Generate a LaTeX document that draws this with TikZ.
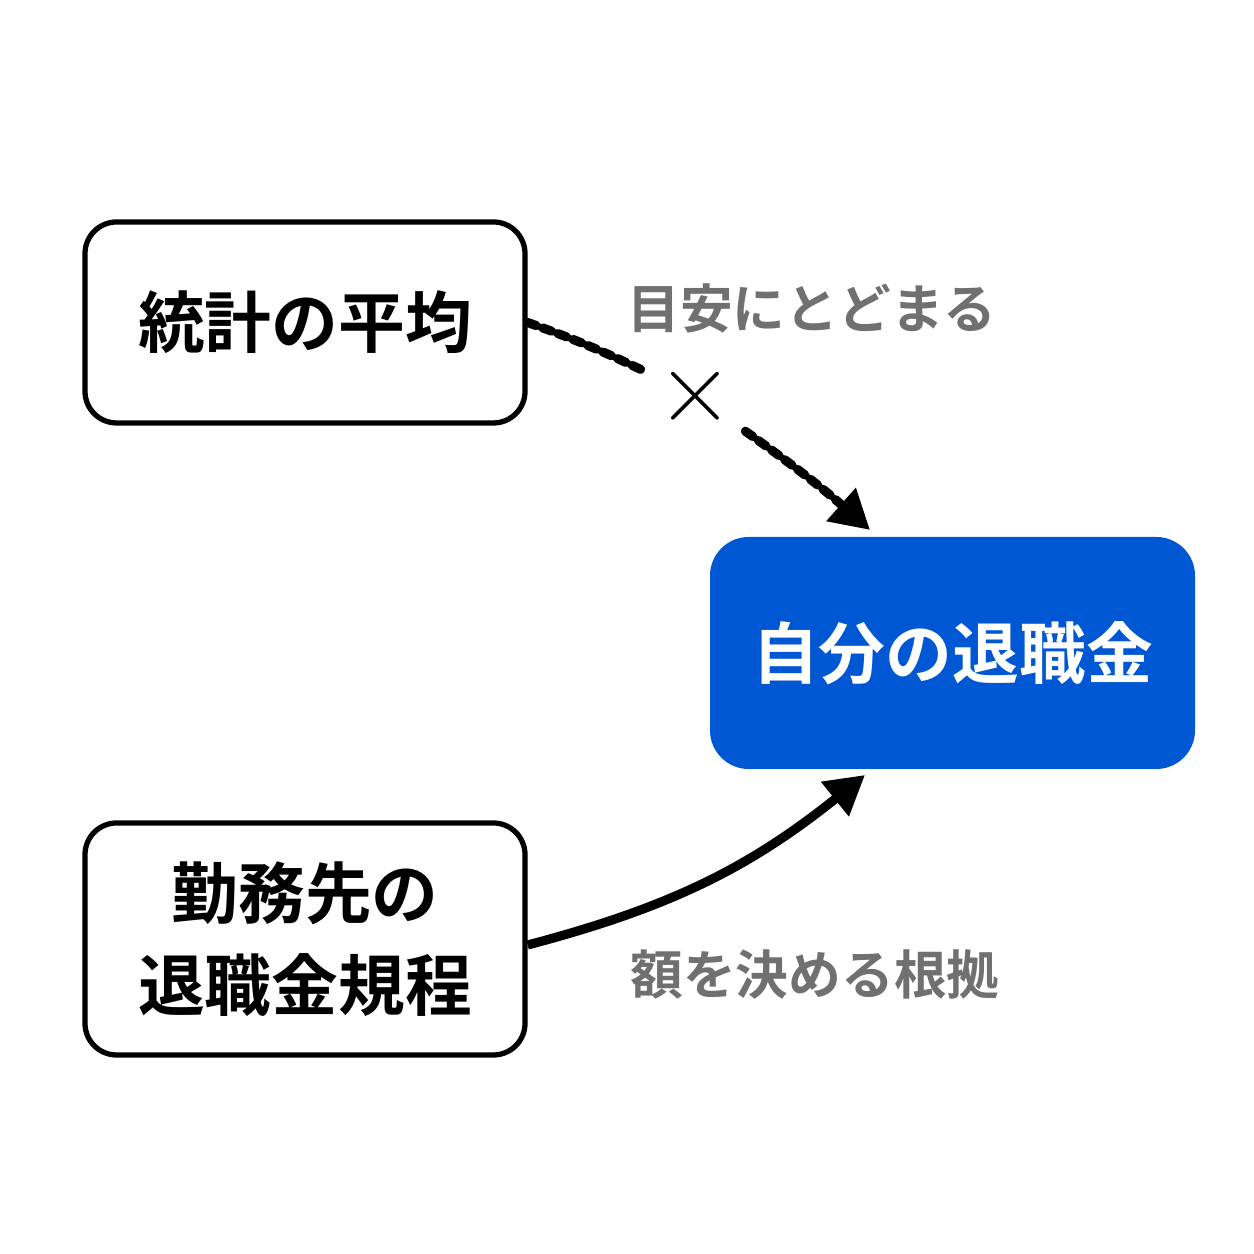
\documentclass[tikz,border=0pt]{standalone}
\usepackage{fontspec}
\newfontfamily\cjk{Noto Sans CJK JP}[BoldFont={Noto Sans CJK JP Bold}]
\usetikzlibrary{arrows.meta}
\definecolor{myblue}{HTML}{0057D4}
\definecolor{labelgray}{HTML}{707070}

\begin{document}
\begin{tikzpicture}[font=\cjk\bfseries,
  src/.style={shape=rectangle,draw=black,line width=1.5pt,rounded corners=9pt,align=center,font=\cjk\bfseries\fontsize{19}{26}\selectfont},
  dest/.style={shape=rectangle,fill=myblue,rounded corners=11pt,text=white,font=\cjk\bfseries\fontsize{19}{24}\selectfont},
  lbl/.style={text=labelgray,font=\cjk\bfseries\fontsize{15}{18}\selectfont},
  link/.style={line width=2.6pt,-{Triangle[length=11pt,width=12pt]}}]
\useasboundingbox (0,0) rectangle (12.54,12.54);

\node[src,minimum width=4.4cm,minimum height=2.01cm] (avg) at (3.05,9.315) {統計の平均};
\node[dest,minimum width=4.85cm,minimum height=2.32cm] (mine) at (9.525,6.01) {自分の退職金};
\node[src,minimum width=4.4cm,minimum height=2.32cm] (rule) at (3.05,3.15) {勤務先の\\退職金規程};

\node[font=\fontsize{30}{30}\selectfont] (cross) at (6.95,8.57) {×};
\coordinate (top) at (8.7,7.24);
\coordinate (bot) at (8.65,4.79);

\draw[line width=2.6pt,dotted,line cap=round] (avg.east) to[bend left=3] (cross);
\draw[link,dotted,line cap=round] (cross) to[bend left=3] (top);
\draw[link] (rule.east |- 0,3.09) to[bend right=12] (bot);

\node[lbl] (lblA) at (8.12,9.46) {目安にとどまる};
\node[lbl] (lblB) at (8.15,2.79) {額を決める根拠};
\end{tikzpicture}
\end{document}
